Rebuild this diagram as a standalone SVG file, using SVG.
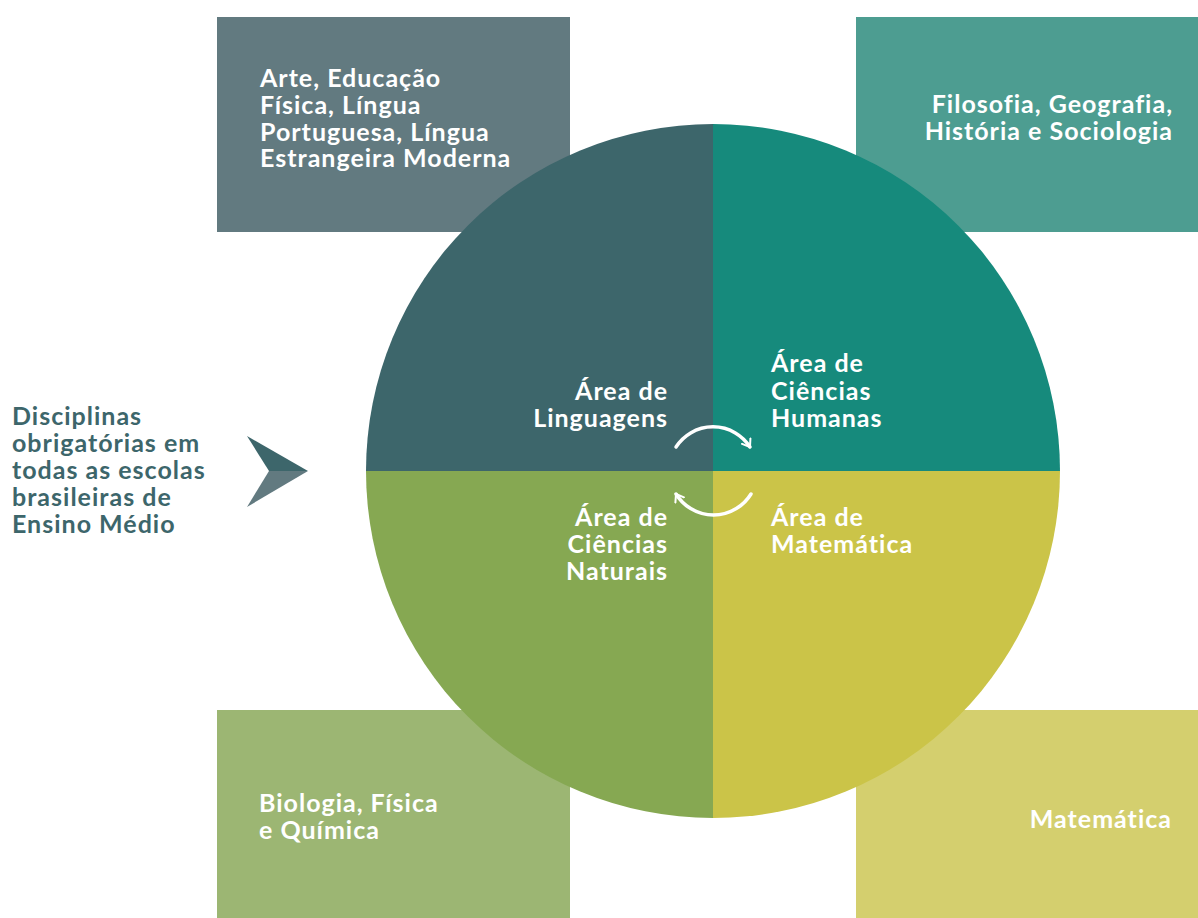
<svg xmlns="http://www.w3.org/2000/svg" width="1198" height="918" viewBox="0 0 1198 918">
<style>
  text { font-family: Lato, "Liberation Sans", sans-serif; font-weight: 700; font-size: 25px; letter-spacing: 1px; font-variant-ligatures: none; }
  .w { fill: #ffffff; }
  .d { fill: #3D666B; }
  .r { text-anchor: end; }
  .arc { fill: none; stroke: #ffffff; stroke-width: 3.5; stroke-linecap: round; }
</style>
<defs>
  <marker id="ah" viewBox="0 0 12 12" refX="8" refY="6" markerWidth="12" markerHeight="12" markerUnits="userSpaceOnUse" orient="auto">
    <path d="M1,1 L8,6 L1,11" fill="none" stroke="#ffffff" stroke-width="2" stroke-linecap="round" stroke-linejoin="round"/>
  </marker>
</defs>
<rect width="1198" height="918" fill="#ffffff"/>

<g id="box-linguagens">
  <rect x="217" y="17" width="353" height="215" fill="#627A80"/>
  <text class="w" x="260" y="87">Arte, Educação</text>
  <text class="w" x="260" y="114">Física, Língua</text>
  <text class="w" x="260" y="141">Portuguesa, Língua</text>
  <text class="w" x="260" y="167">Estrangeira Moderna</text>
</g>
<g id="box-humanas">
  <rect x="856" y="17" width="342" height="215" fill="#4D9D91"/>
  <text class="w r" x="1173" y="113">Filosofia, Geografia,</text>
  <text class="w r" x="1173" y="140">História e Sociologia</text>
</g>
<g id="box-naturais">
  <rect x="217" y="710" width="353" height="208" fill="#9CB673"/>
  <text class="w" x="259" y="812">Biologia, Física</text>
  <text class="w" x="259" y="839">e Química</text>
</g>
<g id="box-matematica">
  <rect x="856" y="710" width="342" height="208" fill="#D4CF6E"/>
  <text class="w r" x="1172" y="828">Matemática</text>
</g>

<g id="circle">
  <g id="q-linguagens">
    <path d="M713,471 L366,471 A347,347 0 0 1 713,124 Z" fill="#3D666B"/>
    <text class="w r" x="668" y="400">Área de</text>
    <text class="w r" x="668" y="427">Linguagens</text>
  </g>
  <g id="q-humanas">
    <path d="M713,471 L713,124 A347,347 0 0 1 1060,471 Z" fill="#168A7C"/>
    <text class="w" x="771" y="372">Área de</text>
    <text class="w" x="771" y="400">Ciências</text>
    <text class="w" x="771" y="427">Humanas</text>
  </g>
  <g id="q-naturais">
    <path d="M713,471 L713,818 A347,347 0 0 1 366,471 Z" fill="#86A852"/>
    <text class="w r" x="668" y="526">Área de</text>
    <text class="w r" x="668" y="553">Ciências</text>
    <text class="w r" x="668" y="580">Naturais</text>
  </g>
  <g id="q-matematica">
    <path d="M713,471 L1060,471 A347,347 0 0 1 713,818 Z" fill="#CBC448"/>
    <text class="w" x="771" y="526">Área de</text>
    <text class="w" x="771" y="553">Matemática</text>
  </g>
</g>

<g id="intro">
  <text class="d" x="12" y="425">Disciplinas</text>
  <text class="d" x="12" y="452">obrigatórias em</text>
  <text class="d" x="12" y="479">todas as escolas</text>
  <text class="d" x="12" y="506">brasileiras de</text>
  <text class="d" x="12" y="533">Ensino Médio</text>
</g>

<g id="connectors">
  <polygon points="247,436 308,471 269,471" fill="#3D666B"/>
  <polygon points="269,471 308,471 247,507" fill="#627A80"/>
  <path class="arc" d="M676,447 A44,44 0 0 1 750,447" marker-end="url(#ah)"/>
  <path class="arc" d="M751,494 A44,44 0 0 1 676,494" marker-end="url(#ah)"/>
</g>
</svg>
